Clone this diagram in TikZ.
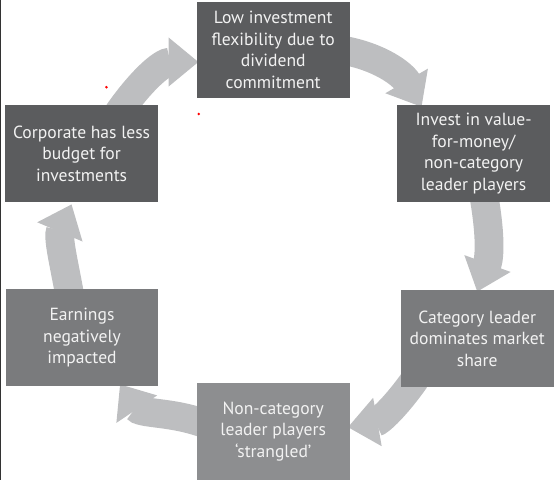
\documentclass[tikz,border=0pt]{standalone}
\usepackage{fontspec}
\setmainfont{PT Sans}
\usetikzlibrary{arrows.meta, calc, backgrounds}
\definecolor{boxDark}{HTML}{5B5C5E}
\definecolor{boxMid}{HTML}{7A7B7D}
\definecolor{boxLight}{HTML}{8D8E90}
\definecolor{cycGray}{HTML}{BDBEC0}
\definecolor{boxText}{HTML}{F2F2F2}
\tikzset{
  cbox/.style={rectangle, align=center, text=boxText,
    minimum width=3.82cm, minimum height=2.42cm, inner sep=2pt,
    font=\fontsize{12.5}{15.3}\selectfont},
  dark/.style ={cbox, fill=boxDark},
  mid/.style  ={cbox, fill=boxMid},
  light/.style={cbox, fill=boxLight},
  cyc/.style={draw=cycGray, line width=0.72cm,
    -{Triangle[length=0.75cm, width=1.18cm]}},
}

\begin{document}
\begin{tikzpicture}
  \useasboundingbox (0,0) rectangle (13.85,-12);

  % ---- Boxes of the cycle ---------------------------------------------
  \node[dark]  (low)  at (6.83,-1.25)  {Low investment\\flexibility due to\\dividend\\commitment};
  \node[dark]  (inv)  at (11.84,-3.84) {Invest in value-\\for-money/\\non-category\\leader players};
  \node[mid]   (cat)  at (11.93,-8.46) {Category leader\\dominates market\\share};
  \node[light] (nonc) at (6.83,-10.79) {Non-category\\leader players\\`strangled'};
  \node[mid]   (earn) at (2.05,-8.44)  {Earnings\\negatively\\impacted};
  \node[dark]  (corp) at (2.04,-3.84)  {Corporate has less\\budget for\\investments};

  % ---- Curved arrows, behind the boxes --------------------------------
  \begin{scope}[on background layer]
    \draw[cyc] ($(corp.north)+(0.92,-0.2)$) to[out=55, in=180] ($(low.west)+(0.05,-0.3)$);
    \draw[cyc] ($(low.east)+(-0.2,0)$) to[out=-10, in=120] ($(inv.north)+(-1.3,-0.05)$);
    \draw[cyc] ($(inv.south)+(0.25,0.2)$) to[out=-80, in=70] ($(cat.north)+(0,-0.05)$);
    \draw[cyc] ($(cat.south)+(-1.55,0.2)$) to[out=-125, in=10] ($(nonc.east)+(-0.05,0.11)$);
    \draw[cyc] ($(nonc.west)+(0.2,0.2)$) to[out=160, in=-56] ($(earn.south)+(0.95,0.05)$);
    \draw[cyc] ($(earn.north)+(-0.3,-0.2)$) to[out=100, in=-113] ($(corp.south)+(-0.25,-0.05)$);
  \end{scope}

  % ---- Left edge and stray marks ---------------------------------------
  \draw[line width=1.2pt, black!80] (0,0) -- (0,-12);
  \fill[red] (2.66,-2.18) circle (0.035);
  \fill[red] (4.97,-2.85) circle (0.035);

\end{tikzpicture}
\end{document}
